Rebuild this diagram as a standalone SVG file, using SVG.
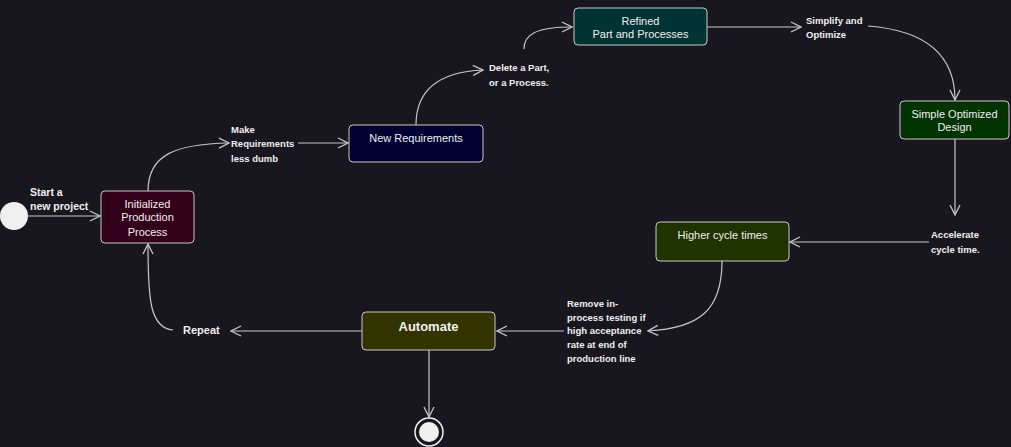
<svg xmlns="http://www.w3.org/2000/svg" width="1011" height="447" viewBox="0 0 1011 447">
<defs>
<marker id="ah" viewBox="0 0 12 12" refX="11" refY="6" markerWidth="12" markerHeight="12" markerUnits="userSpaceOnUse" orient="auto">
<path d="M1,1 L11,6 L1,11" fill="none" stroke="#c8c8c8" stroke-width="1.3"/>
</marker>
<style>
.bg{fill:#18161f}
.node{stroke:#c8c8c8;stroke-width:1}
.t{font-family:"Liberation Sans",Arial,sans-serif;font-size:11px;fill:#f0f0f0;text-anchor:middle}
.lbl{font-family:"Liberation Sans",Arial,sans-serif;font-size:9.5px;font-weight:bold;fill:#f0f0f0}
.e{fill:none;stroke:#c8c8c8;stroke-width:1.2}
.ea{fill:none;stroke:#c8c8c8;stroke-width:1.2;marker-end:url(#ah)}
</style>
</defs>
<rect class="bg" x="0" y="0" width="1011" height="447"/>
<g id="connectors">
<path class="ea" d="M28,216 L100,216"/>
<path class="ea" d="M148,191 C148,155 175,144 229,143"/>
<path class="ea" d="M298,143 L348,143"/>
<path class="ea" d="M416,125 C416,90 438,72 483,70"/>
<path class="ea" d="M524,49 C524,35 535,27 572,27"/>
<path class="ea" d="M707,27 L801,27"/>
<path class="ea" d="M868,26 C920,30 955,50 955,100"/>
<path class="ea" d="M955,139 L955,215"/>
<path class="ea" d="M929,242 L790,242"/>
<path class="ea" d="M722,261 C722,310 700,328 648,331"/>
<path class="ea" d="M564,331 L497,331"/>
<path class="ea" d="M362,331 L231,331"/>
<path class="ea" d="M173,330 C150,328 148,300 148,244"/>
<path class="ea" d="M429,350 L429,417"/>
</g>
<g id="start">
<circle cx="14" cy="216" r="14" fill="#f0f0f0"/>
</g>
<g id="end">
<circle cx="429" cy="432" r="14" fill="none" stroke="#f0f0f0" stroke-width="1.5"/>
<circle cx="429" cy="432" r="10" fill="#f0f0f0"/>
</g>
<g id="n-initialized">
<rect class="node" x="101" y="191" width="93" height="52" rx="4" fill="#33001a"/>
<text class="t" x="147.5" y="208">Initialized</text>
<text class="t" x="147.5" y="221">Production</text>
<text class="t" x="147.5" y="236">Process</text>
</g>
<g id="n-newreq">
<rect class="node" x="349" y="125" width="134" height="37" rx="4" fill="#000033"/>
<text class="t" x="416" y="142">New Requirements</text>
</g>
<g id="n-refined">
<rect class="node" x="574" y="8" width="133" height="37" rx="4" fill="#003333"/>
<text class="t" x="640.5" y="25">Refined</text>
<text class="t" x="640.5" y="38">Part and Processes</text>
</g>
<g id="n-simple">
<rect class="node" x="900" y="101" width="109" height="38" rx="4" fill="#003300"/>
<text class="t" x="954.5" y="118">Simple Optimized</text>
<text class="t" x="954.5" y="131">Design</text>
</g>
<g id="n-higher">
<rect class="node" x="656" y="222" width="133" height="39" rx="4" fill="#1f3300"/>
<text class="t" x="722.5" y="239">Higher cycle times</text>
</g>
<g id="n-automate">
<rect class="node" x="362" y="312" width="133" height="38" rx="4" fill="#333300"/>
<text class="t" x="428.5" y="331" style="font-size:13px;font-weight:bold">Automate</text>
</g>
<g id="labels">
<text class="lbl" x="30" y="196" style="font-size:10.5px">Start a</text>
<text class="lbl" x="30" y="210" style="font-size:10.5px">new project</text>
<text class="lbl" x="231" y="133">Make</text>
<text class="lbl" x="231" y="147">Requirements</text>
<text class="lbl" x="231" y="162">less dumb</text>
<text class="lbl" x="489" y="71">Delete a Part,</text>
<text class="lbl" x="489" y="86">or a Process.</text>
<text class="lbl" x="806" y="24">Simplify and</text>
<text class="lbl" x="806" y="38">Optimize</text>
<text class="lbl" x="931" y="238">Accelerate</text>
<text class="lbl" x="931" y="253">cycle time.</text>
<text class="lbl" x="567" y="307">Remove in-</text>
<text class="lbl" x="567" y="321">process testing if</text>
<text class="lbl" x="567" y="334">high acceptance</text>
<text class="lbl" x="567" y="348">rate at end of</text>
<text class="lbl" x="567" y="362">production line</text>
<text class="lbl" x="183" y="334" style="font-size:11px">Repeat</text>
</g>
</svg>
